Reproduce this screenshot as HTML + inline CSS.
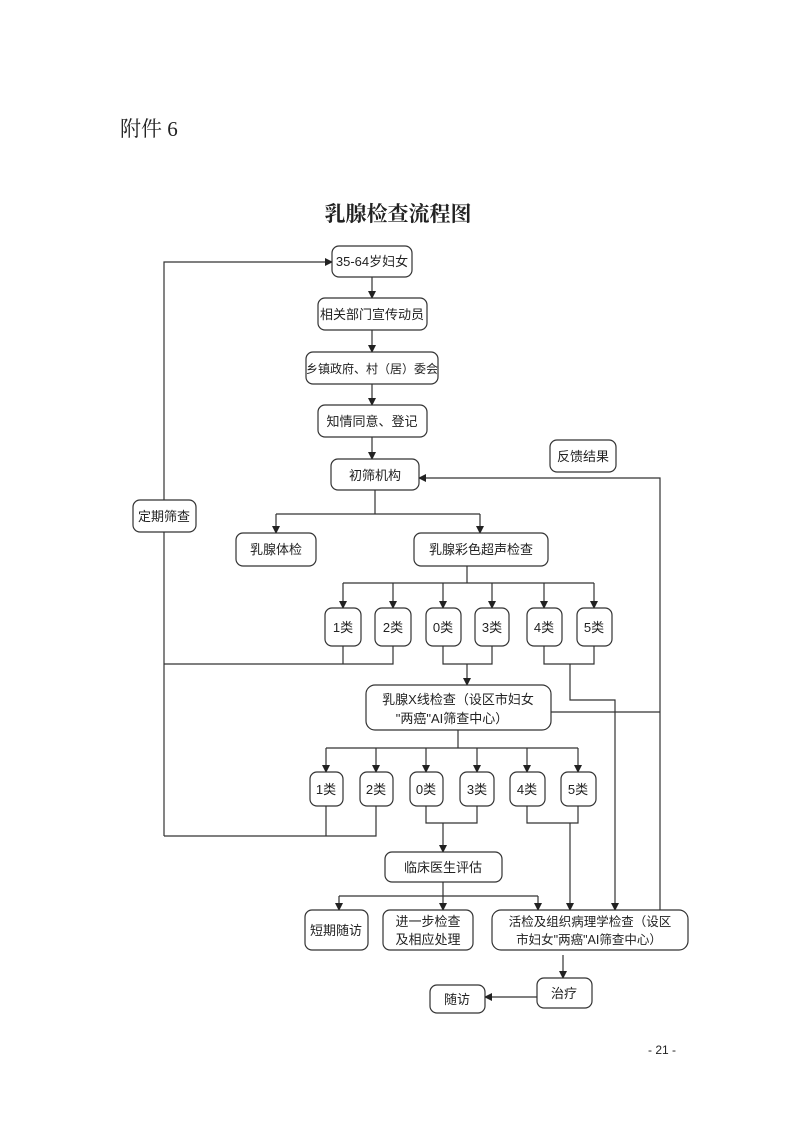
<!DOCTYPE html>
<html><head><meta charset="utf-8"><style>
html,body{margin:0;padding:0;background:#fff;}
svg{display:block;}
text{font-family:"Liberation Sans","WenQuanYi Zen Hei","Noto Sans CJK SC",sans-serif;fill:#222;}
.b{fill:#fff;stroke:#333;stroke-width:1.2;}
.l{fill:none;stroke:#333;stroke-width:1.2;}
</style></head><body>
<svg width="793" height="1122" viewBox="0 0 793 1122" xmlns="http://www.w3.org/2000/svg">
<defs><marker id="a" markerWidth="8" markerHeight="8" refX="7" refY="4" orient="auto" markerUnits="userSpaceOnUse"><path d="M0,0 L8,4 L0,8 z" fill="#222"/></marker></defs>
<text x="120" y="136" style="font-family:'Liberation Serif','Noto Serif CJK SC',serif;font-size:21px">附件 6</text>
<text x="398" y="221" text-anchor="middle" style="font-size:21px;font-weight:bold;font-family:'Noto Serif CJK SC','WenQuanYi Zen Hei',serif">乳腺检查流程图</text>
<text x="662" y="1054" text-anchor="middle" style="font-size:12px">- 21 -</text>

<g class="l">
<path d="M372 277V298" marker-end="url(#a)"/>
<path d="M372 330V352" marker-end="url(#a)"/>
<path d="M372 384V405" marker-end="url(#a)"/>
<path d="M372 437V459" marker-end="url(#a)"/>
<path d="M164 836V262H332" marker-end="url(#a)"/>
<path d="M660 910V478H419" marker-end="url(#a)"/>
<path d="M375 490V514"/>
<path d="M276 514H480"/>
<path d="M276 514V533" marker-end="url(#a)"/>
<path d="M480 514V533" marker-end="url(#a)"/>
<path d="M467 566V583"/>
<path d="M343 583H594"/>
<path d="M343 583V608" marker-end="url(#a)"/><path d="M393 583V608" marker-end="url(#a)"/><path d="M443 583V608" marker-end="url(#a)"/><path d="M492 583V608" marker-end="url(#a)"/><path d="M544 583V608" marker-end="url(#a)"/><path d="M594 583V608" marker-end="url(#a)"/>
<path d="M343 646V664M393 646V664H164"/>
<path d="M443 646V664H492V646"/>
<path d="M467 664V685" marker-end="url(#a)"/>
<path d="M544 646V664H594V646"/>
<path d="M570 664V700H615V910" marker-end="url(#a)"/>
<path d="M551 712H660"/>
<path d="M458 730V748"/>
<path d="M326 748H578"/>
<path d="M326 748V772" marker-end="url(#a)"/><path d="M376 748V772" marker-end="url(#a)"/><path d="M426 748V772" marker-end="url(#a)"/><path d="M477 748V772" marker-end="url(#a)"/><path d="M527 748V772" marker-end="url(#a)"/><path d="M578 748V772" marker-end="url(#a)"/>
<path d="M326 806V836M376 806V836H164"/>
<path d="M426 806V823H477V806"/>
<path d="M443 823V852" marker-end="url(#a)"/>
<path d="M527 806V823H578V806"/>
<path d="M570 823V910" marker-end="url(#a)"/>
<path d="M443 882V896"/>
<path d="M339 896H538"/>
<path d="M339 896V910" marker-end="url(#a)"/><path d="M443 896V910" marker-end="url(#a)"/><path d="M538 896V910" marker-end="url(#a)"/>
<path d="M563 955V978" marker-end="url(#a)"/>
<path d="M537 997H485" marker-end="url(#a)"/>
</g>

<g font-size="13">
<rect class="b" x="332" y="246" width="80" height="31" rx="7"/><text x="372" y="266" text-anchor="middle">35-64岁妇女</text>
<rect class="b" x="318" y="298" width="109" height="32" rx="7"/><text x="372" y="319" text-anchor="middle">相关部门宣传动员</text>
<rect class="b" x="306" y="352" width="132" height="32" rx="7"/><text x="372" y="373" text-anchor="middle" font-size="12">乡镇政府、村（居）委会</text>
<rect class="b" x="318" y="405" width="109" height="32" rx="7"/><text x="372" y="426" text-anchor="middle">知情同意、登记</text>
<rect class="b" x="331" y="459" width="88" height="31" rx="7"/><text x="375" y="480" text-anchor="middle">初筛机构</text>
<rect class="b" x="550" y="440" width="66" height="32" rx="7"/><text x="583" y="461" text-anchor="middle">反馈结果</text>
<rect class="b" x="133" y="500" width="63" height="32" rx="7"/><text x="164" y="521" text-anchor="middle">定期筛查</text>
<rect class="b" x="236" y="533" width="80" height="33" rx="7"/><text x="276" y="554" text-anchor="middle">乳腺体检</text>
<rect class="b" x="414" y="533" width="134" height="33" rx="7"/><text x="481" y="554" text-anchor="middle">乳腺彩色超声检查</text>

<rect class="b" x="325" y="608" width="36" height="38" rx="7"/><text x="343" y="632" text-anchor="middle">1类</text>
<rect class="b" x="375" y="608" width="36" height="38" rx="7"/><text x="393" y="632" text-anchor="middle">2类</text>
<rect class="b" x="426" y="608" width="35" height="38" rx="7"/><text x="443" y="632" text-anchor="middle">0类</text>
<rect class="b" x="475" y="608" width="34" height="38" rx="7"/><text x="492" y="632" text-anchor="middle">3类</text>
<rect class="b" x="527" y="608" width="35" height="38" rx="7"/><text x="544" y="632" text-anchor="middle">4类</text>
<rect class="b" x="577" y="608" width="35" height="38" rx="7"/><text x="594" y="632" text-anchor="middle">5类</text>

<rect class="b" x="366" y="685" width="185" height="45" rx="9"/>
<text x="458" y="704" text-anchor="middle">乳腺X线检查（设区市妇女</text>
<text x="452" y="723" text-anchor="middle">"两癌"AI筛查中心）</text>

<rect class="b" x="310" y="772" width="33" height="34" rx="7"/><text x="326" y="794" text-anchor="middle">1类</text>
<rect class="b" x="360" y="772" width="33" height="34" rx="7"/><text x="376" y="794" text-anchor="middle">2类</text>
<rect class="b" x="410" y="772" width="33" height="34" rx="7"/><text x="426" y="794" text-anchor="middle">0类</text>
<rect class="b" x="460" y="772" width="34" height="34" rx="7"/><text x="477" y="794" text-anchor="middle">3类</text>
<rect class="b" x="510" y="772" width="35" height="34" rx="7"/><text x="527" y="794" text-anchor="middle">4类</text>
<rect class="b" x="561" y="772" width="35" height="34" rx="7"/><text x="578" y="794" text-anchor="middle">5类</text>

<rect class="b" x="385" y="852" width="117" height="30" rx="7"/><text x="443" y="872" text-anchor="middle">临床医生评估</text>
<rect class="b" x="305" y="910" width="63" height="40" rx="7"/><text x="336" y="935" text-anchor="middle">短期随访</text>
<rect class="b" x="383" y="910" width="90" height="40" rx="7"/><text x="428" y="926" text-anchor="middle">进一步检查</text><text x="428" y="944" text-anchor="middle">及相应处理</text>
<rect class="b" x="492" y="910" width="196" height="40" rx="9"/><text x="590" y="926" text-anchor="middle" font-size="12.5">活检及组织病理学检查（设区</text><text x="589" y="944" text-anchor="middle" font-size="12.5">市妇女"两癌"AI筛查中心）</text>
<rect class="b" x="537" y="978" width="55" height="30" rx="7"/><text x="564" y="998" text-anchor="middle">治疗</text>
<rect class="b" x="430" y="985" width="55" height="28" rx="7"/><text x="457" y="1004" text-anchor="middle">随访</text>
</g>
</svg>
</body></html>
